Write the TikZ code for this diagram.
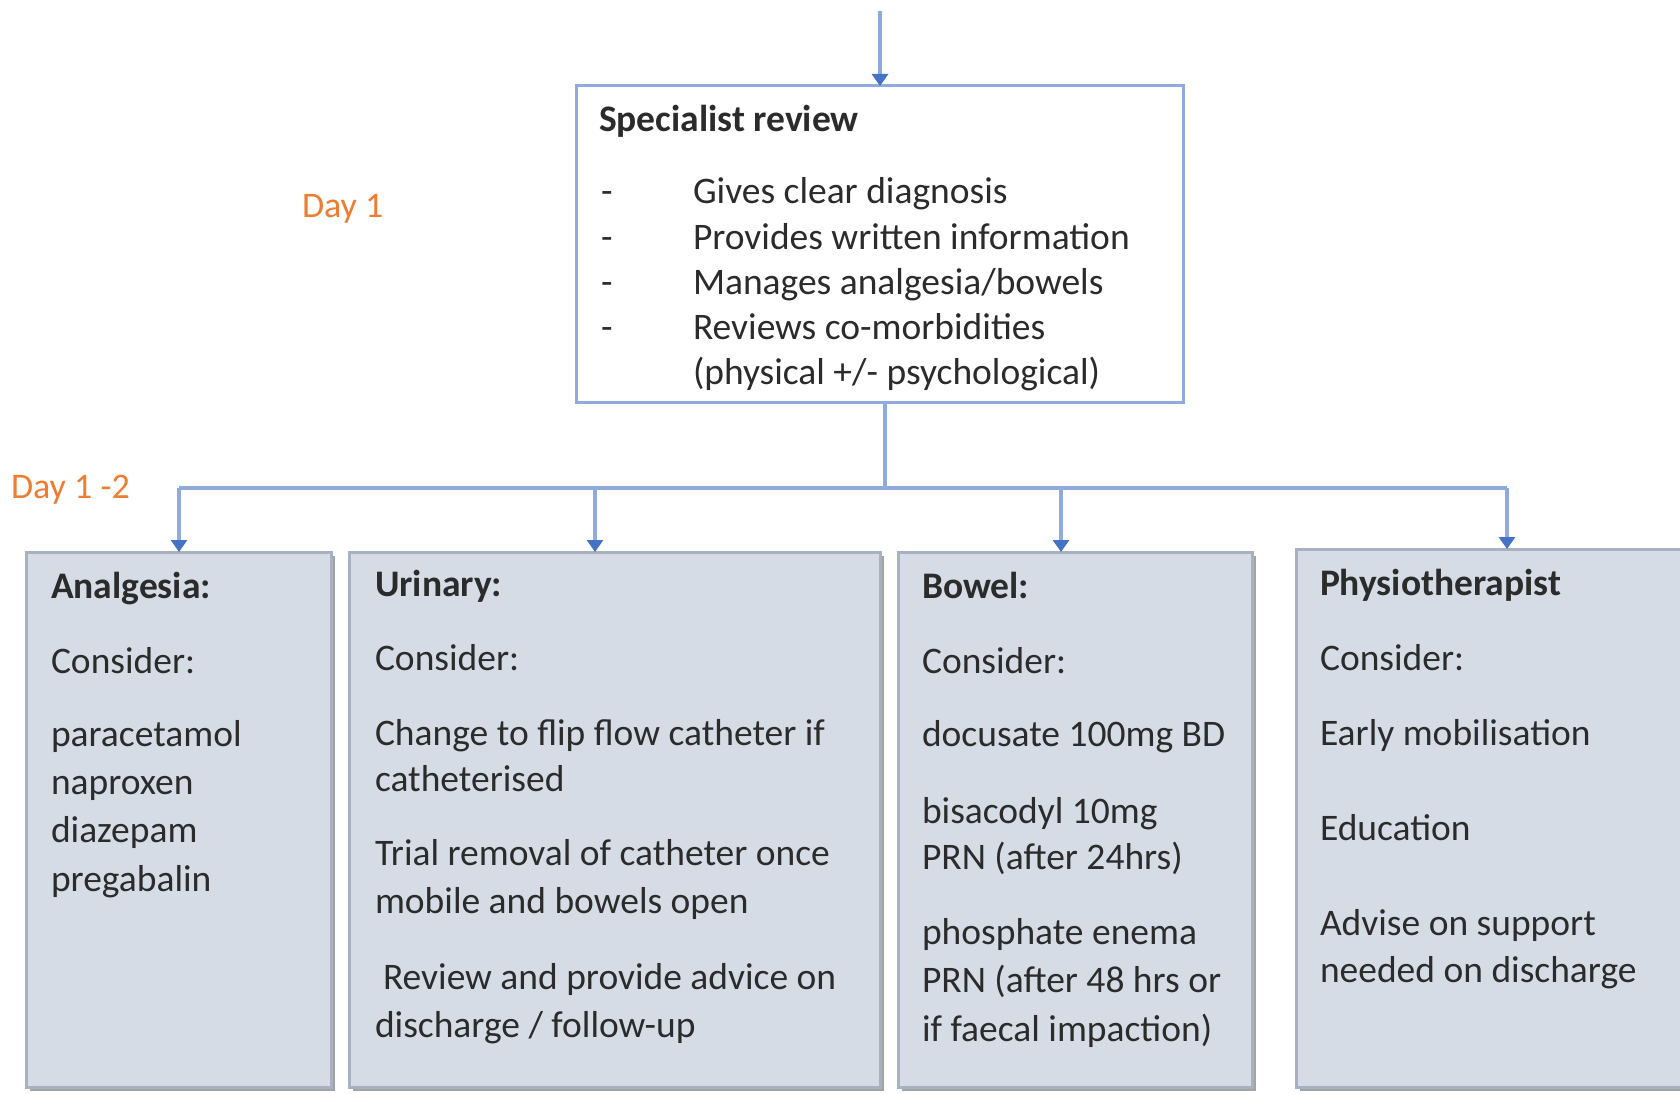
\documentclass[tikz,border=0pt]{standalone}
\usepackage{fontspec}
\setmainfont{Carlito}
\usetikzlibrary{arrows.meta,shadows}
\definecolor{linkblue}{HTML}{8FAADC}
\definecolor{tipblue}{HTML}{4472C4}
\definecolor{cardfill}{HTML}{D6DCE5}
\definecolor{cardedge}{HTML}{A7B1C2}
\definecolor{daycol}{HTML}{ED7D31}
\definecolor{ink}{HTML}{2B2B2B}
\begin{document}
\begin{tikzpicture}[x=1pt,y=-1pt,
  every node/.style={inner sep=0pt, outer sep=0pt},
  txt/.style={anchor=base west, text=ink, font=\fontsize{37.5}{45}\selectfont},
  head/.style={anchor=base west, text=ink, font=\fontsize{37.5}{45}\selectfont\bfseries},
  card/.style={draw=cardedge, line width=3pt, fill=cardfill, anchor=north west,
    drop shadow={shadow xshift=4pt, shadow yshift=-4pt, fill=black!60, opacity=0.6}},
  specbox/.style={draw=linkblue, line width=3pt, fill=white, anchor=north west},
  link/.style={draw=linkblue, line width=3.5pt},
  arr/.style={link, -{Triangle[width=16pt,length=12pt,color=tipblue,fill=tipblue]}},
  daylabel/.style={anchor=base west, text=daycol, font=\fontsize{36}{42}\selectfont}
]
\useasboundingbox (0,0) rectangle (1680,1094);
\clip (0,0) rectangle (1680,1094);

% boxes
\node[specbox, minimum width=607pt, minimum height=316pt] (spec) at (576,86) {};
\node[card, minimum width=305pt, minimum height=535pt] (ana) at (26,552) {};
\node[card, minimum width=531pt, minimum height=535pt] (uri) at (349,552) {};
\node[card, minimum width=354pt, minimum height=535pt] (bow) at (898,552) {};
\node[card, minimum width=430pt, minimum height=538pt] (phy) at (1296,549) {};

% connectors
\coordinate (entry) at (880,11);
\draw[arr] (entry) -- (entry |- spec.north);
\coordinate (stem) at (885,488);
\coordinate (d1) at (179,488);
\coordinate (d2) at (595,488);
\coordinate (d3) at (1061,488);
\coordinate (d4) at (1507,488);
\draw[link] (stem |- spec.south) -- (stem);
\draw[link] (d1) -- (d4);
\draw[arr] (d1) -- (d1 |- ana.north);
\draw[arr] (d2) -- (d2 |- uri.north);
\draw[arr] (d3) -- (d3 |- bow.north);
\draw[arr] (d4) -- (d4 |- phy.north);

% day labels
\node[daylabel] (day1) at (302,218) {Day 1};
\node[daylabel] (day12) at (11,498) {Day 1 -2};

% specialist review
\node[head] (spec-h) at (599,132) {Specialist review};
\node[txt] (spec-b1) at (601,204) {-};
\node[txt] (spec-b2) at (601,249) {-};
\node[txt] (spec-b3) at (601,294) {-};
\node[txt] (spec-b4) at (601,339) {-};
\node[txt] (spec-1) at (693,204) {Gives clear diagnosis};
\node[txt] (spec-2) at (693,249) {Provides written information};
\node[txt] (spec-3) at (693,294) {Manages analgesia/bowels};
\node[txt] (spec-4) at (693,339) {Reviews co-morbidities};
\node[txt] (spec-5) at (693,384) {(physical +/- psychological)};

% analgesia
\node[head] (ana-h) at (51,598) {Analgesia:};
\node[txt] (ana-c) at (51,673) {Consider:};
\node[txt] (ana-1) at (51,746) {paracetamol};
\node[txt] (ana-2) at (51,794) {naproxen};
\node[txt] (ana-3) at (51,842) {diazepam};
\node[txt] (ana-4) at (51,891) {pregabalin};

% urinary
\node[head] (uri-h) at (375,596) {Urinary:};
\node[txt] (uri-c) at (375,670) {Consider:};
\node[txt] (uri-1) at (375,745) {Change to flip flow catheter if};
\node[txt] (uri-2) at (375,791) {catheterised};
\node[txt] (uri-3) at (375,865) {Trial removal of catheter once};
\node[txt] (uri-4) at (375,913) {mobile and bowels open};
\node[txt] (uri-5) at (383,989) {Review and provide advice on};
\node[txt] (uri-6) at (375,1037) {discharge / follow-up};

% bowel
\node[head] (bow-h) at (922,598) {Bowel:};
\node[txt] (bow-c) at (922,673) {Consider:};
\node[txt] (bow-1) at (922,746) {docusate 100mg BD};
\node[txt] (bow-2) at (922,823) {bisacodyl 10mg};
\node[txt] (bow-3) at (922,869) {PRN (after 24hrs)};
\node[txt] (bow-4) at (922,944) {phosphate enema};
\node[txt] (bow-5) at (922,992) {PRN (after 48 hrs or};
\node[txt] (bow-6) at (922,1041) {if faecal impaction)};

% physiotherapist
\node[head] (phy-h) at (1320,595) {Physiotherapist};
\node[txt] (phy-c) at (1320,670) {Consider:};
\node[txt] (phy-1) at (1320,745) {Early mobilisation};
\node[txt] (phy-2) at (1320,840) {Education};
\node[txt] (phy-3) at (1320,935) {Advise on support};
\node[txt] (phy-4) at (1320,982) {needed on discharge};
\end{tikzpicture}
\end{document}
